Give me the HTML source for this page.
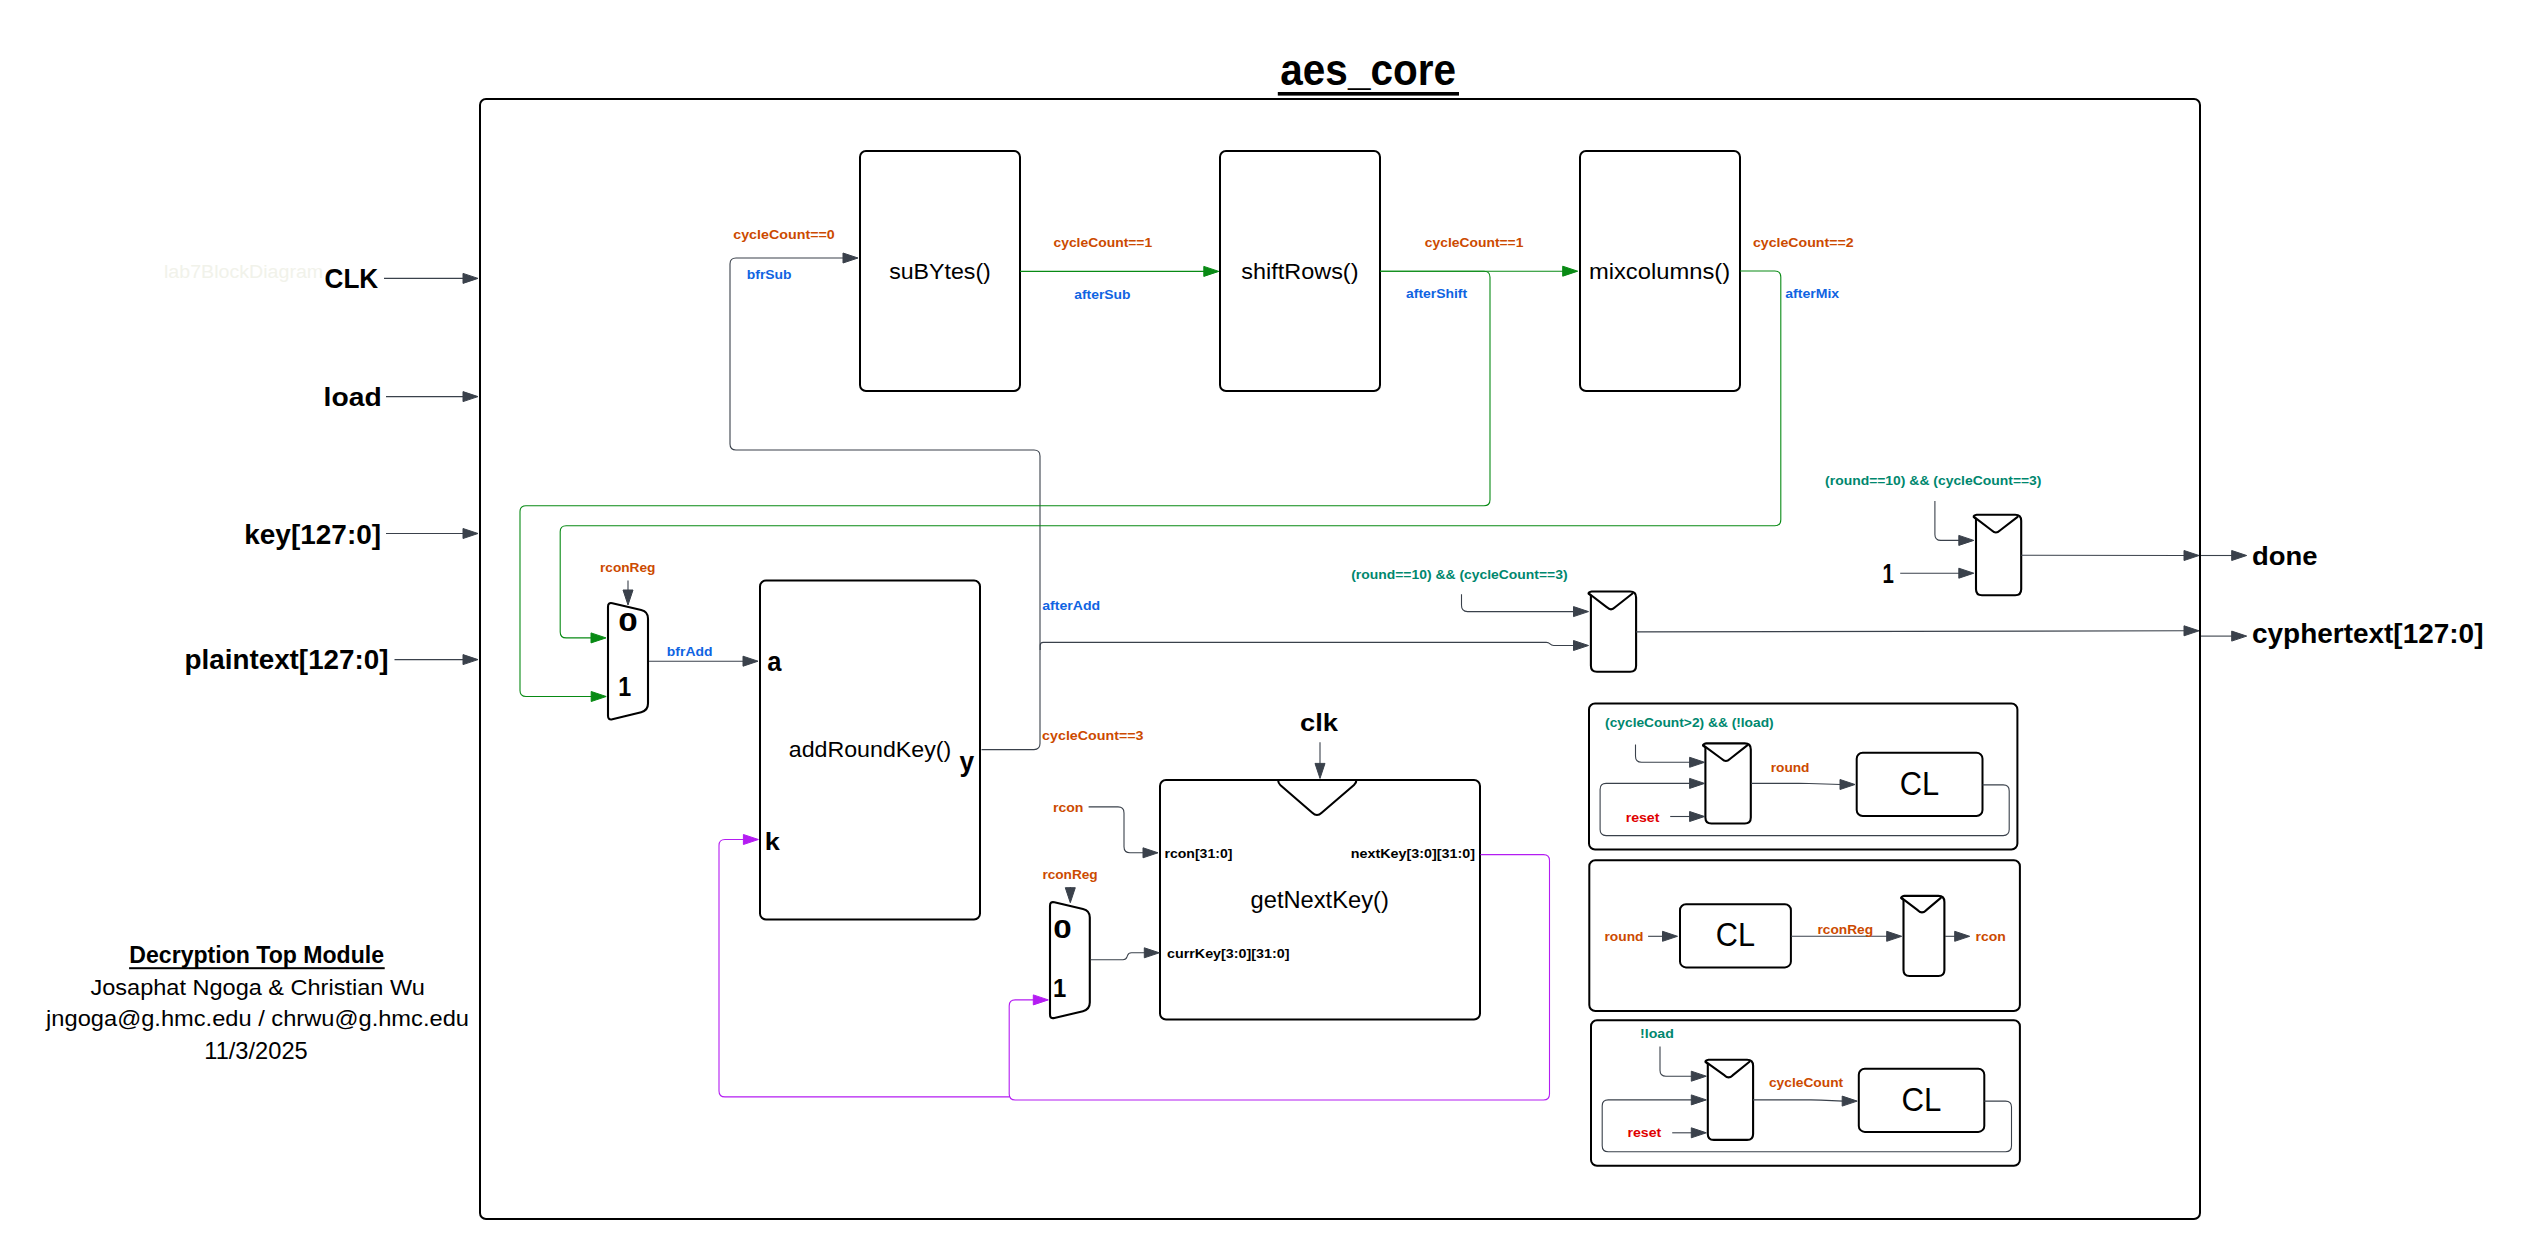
<!DOCTYPE html>
<html><head><meta charset="utf-8"><style>
html,body{margin:0;padding:0;background:#fff;width:2529px;height:1259px;overflow:hidden}
svg{display:block;font-family:"Liberation Sans",sans-serif}
</style></head><body>
<svg width="2529" height="1259" viewBox="0 0 2529 1259">
<rect width="2529" height="1259" fill="#fff"/>
<rect x="480.00" y="99.00" width="1720.00" height="1120.00" rx="6" fill="none" stroke="#000" stroke-width="2"/>
<rect x="860.00" y="151.00" width="160.00" height="240.00" rx="6" fill="none" stroke="#000" stroke-width="2"/>
<rect x="1220.00" y="151.00" width="160.00" height="240.00" rx="6" fill="none" stroke="#000" stroke-width="2"/>
<rect x="1580.00" y="151.00" width="160.00" height="240.00" rx="6" fill="none" stroke="#000" stroke-width="2"/>
<rect x="760.00" y="580.50" width="220.00" height="339.00" rx="6" fill="none" stroke="#000" stroke-width="2"/>
<rect x="1160.00" y="780.00" width="320.00" height="239.50" rx="6" fill="none" stroke="#000" stroke-width="2"/>
<path d="M1278,780 Q1278.3,783.2 1280.5,785.3 L1312.3,812.8 Q1317,817.2 1321.7,812.8 L1354,785 Q1356.4,783 1356.4,780" fill="none" stroke="#000" stroke-width="2.1" stroke-linejoin="round" stroke-linecap="round"/>
<rect x="1589.00" y="703.50" width="428.40" height="146.00" rx="6" fill="none" stroke="#000" stroke-width="2"/>
<rect x="1589.30" y="860.30" width="430.60" height="150.70" rx="6" fill="none" stroke="#000" stroke-width="2"/>
<rect x="1591.00" y="1020.30" width="428.90" height="145.40" rx="6" fill="none" stroke="#000" stroke-width="2"/>
<rect x="1856.70" y="752.80" width="125.80" height="63.20" rx="6" fill="none" stroke="#000" stroke-width="2"/>
<rect x="1680.00" y="904.30" width="110.90" height="63.10" rx="6" fill="none" stroke="#000" stroke-width="2"/>
<rect x="1858.80" y="1068.70" width="125.50" height="63.20" rx="6" fill="none" stroke="#000" stroke-width="2"/>
<path d="M1590.90,595.50 L1588.60,593.70 Q1588.30,592.10 1591.70,591.50 L1630.10,591.50 Q1636.10,591.50 1636.10,597.50 L1636.10,665.80 Q1636.10,671.80 1630.10,671.80 L1596.90,671.80 Q1590.90,671.80 1590.90,665.80 Z" fill="none" stroke="#000" stroke-width="2.1" stroke-linejoin="round"/>
<path d="M1588.90,593.50 L1607.00,607.30 Q1611.00,611.30 1615.00,607.30 L1632.50,593.50" fill="none" stroke="#000" stroke-width="2.1" stroke-linejoin="round" stroke-linecap="round"/>
<path d="M1976.00,518.80 L1973.70,517.00 Q1973.40,515.40 1976.80,514.80 L2015.20,514.80 Q2021.20,514.80 2021.20,520.80 L2021.20,589.20 Q2021.20,595.20 2015.20,595.20 L1982.00,595.20 Q1976.00,595.20 1976.00,589.20 Z" fill="none" stroke="#000" stroke-width="2.1" stroke-linejoin="round"/>
<path d="M1974.00,516.80 L1991.90,530.50 Q1995.90,534.50 1999.90,530.50 L2017.60,516.80" fill="none" stroke="#000" stroke-width="2.1" stroke-linejoin="round" stroke-linecap="round"/>
<path d="M1705.40,747.40 L1703.10,745.60 Q1702.80,744.00 1706.20,743.40 L1744.80,743.40 Q1750.80,743.40 1750.80,749.40 L1750.80,817.50 Q1750.80,823.50 1744.80,823.50 L1711.40,823.50 Q1705.40,823.50 1705.40,817.50 Z" fill="none" stroke="#000" stroke-width="2.1" stroke-linejoin="round"/>
<path d="M1703.40,745.40 L1721.90,759.00 Q1725.90,763.00 1729.90,759.00 L1747.20,745.40" fill="none" stroke="#000" stroke-width="2.1" stroke-linejoin="round" stroke-linecap="round"/>
<path d="M1903.50,899.90 L1901.20,898.10 Q1900.90,896.50 1904.30,895.90 L1938.40,895.90 Q1944.40,895.90 1944.40,901.90 L1944.40,970.00 Q1944.40,976.00 1938.40,976.00 L1909.50,976.00 Q1903.50,976.00 1903.50,970.00 Z" fill="none" stroke="#000" stroke-width="2.1" stroke-linejoin="round"/>
<path d="M1901.50,897.90 L1918.00,910.40 Q1922.00,914.40 1926.00,910.40 L1940.80,897.90" fill="none" stroke="#000" stroke-width="2.1" stroke-linejoin="round" stroke-linecap="round"/>
<path d="M1707.80,1063.80 L1705.50,1062.00 Q1705.20,1060.40 1708.60,1059.80 L1747.10,1059.80 Q1753.10,1059.80 1753.10,1065.80 L1753.10,1133.90 Q1753.10,1139.90 1747.10,1139.90 L1713.80,1139.90 Q1707.80,1139.90 1707.80,1133.90 Z" fill="none" stroke="#000" stroke-width="2.1" stroke-linejoin="round"/>
<path d="M1705.80,1061.80 L1724.60,1075.40 Q1728.60,1079.40 1732.60,1075.40 L1749.50,1061.80" fill="none" stroke="#000" stroke-width="2.1" stroke-linejoin="round" stroke-linecap="round"/>
<path d="M608.00,606.70 Q608.00,602.20 612.38,603.23 L641.19,610.00 Q648.00,611.60 648.00,618.60 L648.00,703.60 Q648.00,710.60 641.20,712.25 L612.37,719.24 Q608.00,720.30 608.00,715.80 Z" fill="none" stroke="#000" stroke-width="2.1"/>
<path d="M1050.00,905.80 Q1050.00,901.30 1054.38,902.31 L1082.98,908.92 Q1089.80,910.50 1089.80,917.50 L1089.80,1002.60 Q1089.80,1009.60 1082.99,1011.21 L1054.38,1017.97 Q1050.00,1019.00 1050.00,1014.50 Z" fill="none" stroke="#000" stroke-width="2.1"/>
<path d="M384.00,278.40 L464.00,278.40" fill="none" stroke="#3a414b" stroke-width="1.1"/>
<polygon points="463.00,273.40 478.00,278.40 463.00,283.40" fill="#3a414b" stroke="#3a414b" stroke-width="1" stroke-linejoin="round"/>
<path d="M386.00,396.60 L464.00,396.60" fill="none" stroke="#3a414b" stroke-width="1.1"/>
<polygon points="463.00,391.60 478.00,396.60 463.00,401.60" fill="#3a414b" stroke="#3a414b" stroke-width="1" stroke-linejoin="round"/>
<path d="M386.00,533.50 L464.00,533.50" fill="none" stroke="#3a414b" stroke-width="1.1"/>
<polygon points="463.00,528.50 478.00,533.50 463.00,538.50" fill="#3a414b" stroke="#3a414b" stroke-width="1" stroke-linejoin="round"/>
<path d="M394.50,659.60 L464.00,659.60" fill="none" stroke="#3a414b" stroke-width="1.1"/>
<polygon points="463.00,654.60 478.00,659.60 463.00,664.60" fill="#3a414b" stroke="#3a414b" stroke-width="1" stroke-linejoin="round"/>
<path d="M981.50,749.60 L1034.00,749.60 Q1040.00,749.60 1040.00,743.60 L1040.00,456.00 Q1040.00,450.00 1034.00,450.00 L736.00,450.00 Q730.00,450.00 730.00,444.00 L730.00,264.00 Q730.00,258.00 736.00,258.00 L844.00,258.00" fill="none" stroke="#3a414b" stroke-width="1.1"/>
<polygon points="843.00,253.00 858.00,258.00 843.00,263.00" fill="#3a414b" stroke="#3a414b" stroke-width="1" stroke-linejoin="round"/>
<path d="M1040.20,650.00 L1040.20,645.40 Q1040.20,642.40 1043.20,642.40 L1546.34,642.40 Q1548.50,642.40 1550.00,643.95 L1550.00,643.95 Q1551.50,645.50 1553.66,645.50 L1574.50,645.50" fill="none" stroke="#3a414b" stroke-width="1.1"/>
<polygon points="1573.50,640.50 1588.50,645.50 1573.50,650.50" fill="#3a414b" stroke="#3a414b" stroke-width="1" stroke-linejoin="round"/>
<path d="M649.00,661.20 L744.00,661.20" fill="none" stroke="#3a414b" stroke-width="1.1"/>
<polygon points="743.00,656.20 758.00,661.20 743.00,666.20" fill="#3a414b" stroke="#3a414b" stroke-width="1" stroke-linejoin="round"/>
<path d="M628.00,580.40 L628.00,591.00" fill="none" stroke="#3a414b" stroke-width="1.1"/>
<polygon points="623.00,590.00 628.00,605.00 633.00,590.00" fill="#3a414b" stroke="#3a414b" stroke-width="1" stroke-linejoin="round"/>
<path d="M1070.30,887.00 L1070.30,888.70" fill="none" stroke="#3a414b" stroke-width="1.1"/>
<polygon points="1065.30,887.70 1070.30,902.70 1075.30,887.70" fill="#3a414b" stroke="#3a414b" stroke-width="1" stroke-linejoin="round"/>
<path d="M1088.60,806.90 L1118.00,806.90 Q1124.00,806.90 1124.00,812.90 L1124.00,846.80 Q1124.00,852.80 1130.00,852.80 L1144.00,852.80" fill="none" stroke="#3a414b" stroke-width="1.1"/>
<polygon points="1143.00,847.80 1158.00,852.80 1143.00,857.80" fill="#3a414b" stroke="#3a414b" stroke-width="1" stroke-linejoin="round"/>
<path d="M1320.00,742.30 L1320.00,764.40" fill="none" stroke="#3a414b" stroke-width="1.1"/>
<polygon points="1315.00,763.40 1320.00,778.40 1325.00,763.40" fill="#3a414b" stroke="#3a414b" stroke-width="1" stroke-linejoin="round"/>
<path d="M1090.60,959.70 L1123.00,959.70 Q1126.00,959.70 1127.02,956.88 L1127.48,955.62 Q1128.50,952.80 1131.50,952.80 L1145.30,952.80" fill="none" stroke="#3a414b" stroke-width="1.1"/>
<polygon points="1144.30,947.80 1159.30,952.80 1144.30,957.80" fill="#3a414b" stroke="#3a414b" stroke-width="1" stroke-linejoin="round"/>
<path d="M1636.00,631.90 L2185.00,630.80" fill="none" stroke="#3a414b" stroke-width="1.1"/>
<polygon points="2184.00,625.80 2199.00,630.80 2184.00,635.80" fill="#3a414b" stroke="#3a414b" stroke-width="1" stroke-linejoin="round"/>
<path d="M1461.50,594.30 L1461.50,605.60 Q1461.50,611.60 1467.50,611.60 L1574.50,611.60" fill="none" stroke="#3a414b" stroke-width="1.1"/>
<polygon points="1573.50,606.60 1588.50,611.60 1573.50,616.60" fill="#3a414b" stroke="#3a414b" stroke-width="1" stroke-linejoin="round"/>
<path d="M2021.00,555.30 L2185.00,555.50" fill="none" stroke="#3a414b" stroke-width="1.1"/>
<polygon points="2184.00,550.50 2199.00,555.50 2184.00,560.50" fill="#3a414b" stroke="#3a414b" stroke-width="1" stroke-linejoin="round"/>
<path d="M1934.90,501.10 L1934.90,534.40 Q1934.90,540.40 1940.90,540.40 L1959.80,540.40" fill="none" stroke="#3a414b" stroke-width="1.1"/>
<polygon points="1958.80,535.40 1973.80,540.40 1958.80,545.40" fill="#3a414b" stroke="#3a414b" stroke-width="1" stroke-linejoin="round"/>
<path d="M1900.20,573.20 L1959.80,573.20" fill="none" stroke="#3a414b" stroke-width="1.1"/>
<polygon points="1958.80,568.20 1973.80,573.20 1958.80,578.20" fill="#3a414b" stroke="#3a414b" stroke-width="1" stroke-linejoin="round"/>
<path d="M2201.00,555.50 L2232.70,555.50" fill="none" stroke="#3a414b" stroke-width="1.1"/>
<polygon points="2231.70,550.50 2246.70,555.50 2231.70,560.50" fill="#3a414b" stroke="#3a414b" stroke-width="1" stroke-linejoin="round"/>
<path d="M2201.00,636.10 L2232.70,636.10" fill="none" stroke="#3a414b" stroke-width="1.1"/>
<polygon points="2231.70,631.10 2246.70,636.10 2231.70,641.10" fill="#3a414b" stroke="#3a414b" stroke-width="1" stroke-linejoin="round"/>
<path d="M1635.50,744.50 L1635.50,756.30 Q1635.50,762.30 1641.50,762.30 L1690.60,762.30" fill="none" stroke="#3a414b" stroke-width="1.1"/>
<polygon points="1689.60,757.30 1704.60,762.30 1689.60,767.30" fill="#3a414b" stroke="#3a414b" stroke-width="1" stroke-linejoin="round"/>
<path d="M1982.50,784.90 L2003.20,784.90 Q2009.20,784.90 2009.20,790.90 L2009.20,829.60 Q2009.20,835.60 2003.20,835.60 L1606.10,835.60 Q1600.10,835.60 1600.10,829.60 L1600.10,789.40 Q1600.10,783.40 1606.10,783.40 L1690.60,783.40" fill="none" stroke="#3a414b" stroke-width="1.1"/>
<polygon points="1689.60,778.40 1704.60,783.40 1689.60,788.40" fill="#3a414b" stroke="#3a414b" stroke-width="1" stroke-linejoin="round"/>
<path d="M1670.20,816.50 L1690.60,816.50" fill="none" stroke="#3a414b" stroke-width="1.1"/>
<polygon points="1689.60,811.50 1704.60,816.50 1689.60,821.50" fill="#3a414b" stroke="#3a414b" stroke-width="1" stroke-linejoin="round"/>
<path d="M1751.00,783.40 L1799.00,783.40 Q1804.00,783.40 1809.00,783.55 L1841.00,784.50" fill="none" stroke="#3a414b" stroke-width="1.1"/>
<polygon points="1840.00,779.50 1855.00,784.50 1840.00,789.50" fill="#3a414b" stroke="#3a414b" stroke-width="1" stroke-linejoin="round"/>
<path d="M1648.10,936.30 L1663.50,936.30" fill="none" stroke="#3a414b" stroke-width="1.1"/>
<polygon points="1662.50,931.30 1677.50,936.30 1662.50,941.30" fill="#3a414b" stroke="#3a414b" stroke-width="1" stroke-linejoin="round"/>
<path d="M1791.00,936.30 L1887.70,936.30" fill="none" stroke="#3a414b" stroke-width="1.1"/>
<polygon points="1886.70,931.30 1901.70,936.30 1886.70,941.30" fill="#3a414b" stroke="#3a414b" stroke-width="1" stroke-linejoin="round"/>
<path d="M1945.00,936.30 L1955.70,936.30" fill="none" stroke="#3a414b" stroke-width="1.1"/>
<polygon points="1954.70,931.30 1969.70,936.30 1954.70,941.30" fill="#3a414b" stroke="#3a414b" stroke-width="1" stroke-linejoin="round"/>
<path d="M1660.00,1046.50 L1660.00,1070.20 Q1660.00,1076.20 1666.00,1076.20 L1692.30,1076.20" fill="none" stroke="#3a414b" stroke-width="1.1"/>
<polygon points="1691.30,1071.20 1706.30,1076.20 1691.30,1081.20" fill="#3a414b" stroke="#3a414b" stroke-width="1" stroke-linejoin="round"/>
<path d="M1984.30,1101.10 L2005.50,1101.10 Q2011.50,1101.10 2011.50,1107.10 L2011.50,1145.80 Q2011.50,1151.80 2005.50,1151.80 L1608.20,1151.80 Q1602.20,1151.80 1602.20,1145.80 L1602.20,1105.90 Q1602.20,1099.90 1608.20,1099.90 L1692.30,1099.90" fill="none" stroke="#3a414b" stroke-width="1.1"/>
<polygon points="1691.30,1094.90 1706.30,1099.90 1691.30,1104.90" fill="#3a414b" stroke="#3a414b" stroke-width="1" stroke-linejoin="round"/>
<path d="M1672.20,1132.80 L1692.30,1132.80" fill="none" stroke="#3a414b" stroke-width="1.1"/>
<polygon points="1691.30,1127.80 1706.30,1132.80 1691.30,1137.80" fill="#3a414b" stroke="#3a414b" stroke-width="1" stroke-linejoin="round"/>
<path d="M1753.00,1099.90 L1810.80,1099.90 Q1815.80,1099.90 1820.80,1100.12 L1843.20,1101.10" fill="none" stroke="#3a414b" stroke-width="1.1"/>
<polygon points="1842.20,1096.10 1857.20,1101.10 1842.20,1106.10" fill="#3a414b" stroke="#3a414b" stroke-width="1" stroke-linejoin="round"/>
<path d="M1020.00,271.40 L1204.80,271.40" fill="none" stroke="#088a14" stroke-width="1.1"/>
<polygon points="1203.80,266.40 1218.80,271.40 1203.80,276.40" fill="#088a14" stroke="#088a14" stroke-width="1" stroke-linejoin="round"/>
<path d="M1380.00,271.20 L1563.70,271.20" fill="none" stroke="#088a14" stroke-width="1.1"/>
<polygon points="1562.70,266.20 1577.70,271.20 1562.70,276.20" fill="#088a14" stroke="#088a14" stroke-width="1" stroke-linejoin="round"/>
<path d="M1380.00,271.20 L1484.00,271.20 Q1490.00,271.20 1490.00,277.20 L1490.00,499.70 Q1490.00,505.70 1484.00,505.70 L526.00,505.70 Q520.00,505.70 520.00,511.70 L520.00,690.50 Q520.00,696.50 526.00,696.50 L592.20,696.50" fill="none" stroke="#088a14" stroke-width="1.1"/>
<polygon points="591.20,691.50 606.20,696.50 591.20,701.50" fill="#088a14" stroke="#088a14" stroke-width="1" stroke-linejoin="round"/>
<path d="M1740.00,271.00 L1774.80,271.00 Q1780.80,271.00 1780.80,277.00 L1780.80,519.70 Q1780.80,525.70 1774.80,525.70 L566.20,525.70 Q560.20,525.70 560.20,531.70 L560.20,631.90 Q560.20,637.90 566.20,637.90 L592.00,637.90" fill="none" stroke="#088a14" stroke-width="1.1"/>
<polygon points="591.00,632.90 606.00,637.90 591.00,642.90" fill="#088a14" stroke="#088a14" stroke-width="1" stroke-linejoin="round"/>
<path d="M1480.50,854.60 L1543.50,854.60 Q1549.50,854.60 1549.50,860.60 L1549.50,1094.00 Q1549.50,1100.00 1543.50,1100.00 L1015.20,1100.00 Q1009.20,1100.00 1009.20,1094.00 L1009.20,1005.90 Q1009.20,999.90 1015.20,999.90 L1034.30,999.90" fill="none" stroke="#b41cf2" stroke-width="1.1"/>
<polygon points="1033.30,994.90 1048.30,999.90 1033.30,1004.90" fill="#b41cf2" stroke="#b41cf2" stroke-width="1" stroke-linejoin="round"/>
<path d="M1009.20,1096.90 L725.00,1096.90 Q719.00,1096.90 719.00,1090.90 L719.00,845.50 Q719.00,839.50 725.00,839.50 L744.40,839.50" fill="none" stroke="#b41cf2" stroke-width="1.1"/>
<polygon points="743.40,834.50 758.40,839.50 743.40,844.50" fill="#b41cf2" stroke="#b41cf2" stroke-width="1" stroke-linejoin="round"/>
<text x="1280.31" y="84.60" font-size="43.56" font-weight="bold" fill="#000" textLength="175.67" lengthAdjust="spacingAndGlyphs">aes_core</text>
<rect x="1277.8" y="92" width="181.2" height="3.6" fill="#000"/>
<text x="163.98" y="278.10" font-size="18.63" font-weight="normal" fill="#f1f2ea" textLength="159.22" lengthAdjust="spacingAndGlyphs">lab7BlockDiagram</text>
<text x="324.53" y="288.20" font-size="27.91" font-weight="bold" fill="#000" textLength="53.71" lengthAdjust="spacingAndGlyphs">CLK</text>
<text x="323.63" y="406.00" font-size="25.12" font-weight="bold" fill="#000" textLength="58.03" lengthAdjust="spacingAndGlyphs">load</text>
<text x="244.25" y="544.10" font-size="27.46" font-weight="bold" fill="#000" textLength="136.82" lengthAdjust="spacingAndGlyphs">key[127:0]</text>
<text x="184.47" y="669.40" font-size="27.60" font-weight="bold" fill="#000" textLength="204.10" lengthAdjust="spacingAndGlyphs">plaintext[127:0]</text>
<text x="2251.97" y="565.00" font-size="25.95" font-weight="bold" fill="#000" textLength="65.56" lengthAdjust="spacingAndGlyphs">done</text>
<text x="2252.01" y="642.90" font-size="27.33" font-weight="bold" fill="#000" textLength="231.46" lengthAdjust="spacingAndGlyphs">cyphertext[127:0]</text>
<text x="889.16" y="278.80" font-size="22.82" font-weight="normal" fill="#000" textLength="101.68" lengthAdjust="spacingAndGlyphs">suBYtes()</text>
<text x="1241.35" y="278.80" font-size="22.82" font-weight="normal" fill="#000" textLength="117.10" lengthAdjust="spacingAndGlyphs">shiftRows()</text>
<text x="1588.92" y="278.80" font-size="22.82" font-weight="normal" fill="#000" textLength="141.25" lengthAdjust="spacingAndGlyphs">mixcolumns()</text>
<text x="733.24" y="238.50" font-size="13.40" font-weight="bold" fill="#cc4a00" textLength="101.54" lengthAdjust="spacingAndGlyphs">cycleCount==0</text>
<text x="1053.46" y="247.40" font-size="13.40" font-weight="bold" fill="#cc4a00" textLength="98.73" lengthAdjust="spacingAndGlyphs">cycleCount==1</text>
<text x="1424.86" y="247.40" font-size="13.40" font-weight="bold" fill="#cc4a00" textLength="98.53" lengthAdjust="spacingAndGlyphs">cycleCount==1</text>
<text x="1752.95" y="247.20" font-size="13.40" font-weight="bold" fill="#cc4a00" textLength="100.62" lengthAdjust="spacingAndGlyphs">cycleCount==2</text>
<text x="1042.14" y="739.60" font-size="13.40" font-weight="bold" fill="#cc4a00" textLength="101.37" lengthAdjust="spacingAndGlyphs">cycleCount==3</text>
<text x="600.00" y="571.80" font-size="13.40" font-weight="bold" fill="#cc4a00" textLength="55.41" lengthAdjust="spacingAndGlyphs">rconReg</text>
<text x="1042.40" y="878.50" font-size="13.40" font-weight="bold" fill="#cc4a00" textLength="55.31" lengthAdjust="spacingAndGlyphs">rconReg</text>
<text x="1052.97" y="812.00" font-size="13.40" font-weight="bold" fill="#cc4a00" textLength="30.50" lengthAdjust="spacingAndGlyphs">rcon</text>
<text x="1770.70" y="771.50" font-size="13.40" font-weight="bold" fill="#cc4a00" textLength="38.81" lengthAdjust="spacingAndGlyphs">round</text>
<text x="1604.49" y="940.70" font-size="13.40" font-weight="bold" fill="#cc4a00" textLength="39.02" lengthAdjust="spacingAndGlyphs">round</text>
<text x="1817.50" y="933.60" font-size="13.40" font-weight="bold" fill="#cc4a00" textLength="55.62" lengthAdjust="spacingAndGlyphs">rconReg</text>
<text x="1975.48" y="940.90" font-size="13.40" font-weight="bold" fill="#cc4a00" textLength="30.29" lengthAdjust="spacingAndGlyphs">rcon</text>
<text x="1768.96" y="1087.40" font-size="13.40" font-weight="bold" fill="#cc4a00" textLength="74.21" lengthAdjust="spacingAndGlyphs">cycleCount</text>
<text x="746.78" y="278.50" font-size="13.40" font-weight="bold" fill="#1064e2" textLength="44.79" lengthAdjust="spacingAndGlyphs">bfrSub</text>
<text x="1074.29" y="298.50" font-size="13.40" font-weight="bold" fill="#1064e2" textLength="56.28" lengthAdjust="spacingAndGlyphs">afterSub</text>
<text x="1405.99" y="297.70" font-size="13.40" font-weight="bold" fill="#1064e2" textLength="61.18" lengthAdjust="spacingAndGlyphs">afterShift</text>
<text x="1785.19" y="297.60" font-size="13.40" font-weight="bold" fill="#1064e2" textLength="54.02" lengthAdjust="spacingAndGlyphs">afterMix</text>
<text x="666.88" y="656.40" font-size="13.40" font-weight="bold" fill="#1064e2" textLength="45.53" lengthAdjust="spacingAndGlyphs">bfrAdd</text>
<text x="1042.29" y="609.80" font-size="13.40" font-weight="bold" fill="#1064e2" textLength="57.84" lengthAdjust="spacingAndGlyphs">afterAdd</text>
<text x="1351.21" y="579.00" font-size="13.40" font-weight="bold" fill="#00876e" textLength="216.39" lengthAdjust="spacingAndGlyphs">(round==10) &amp;&amp; (cycleCount==3)</text>
<text x="1825.11" y="485.00" font-size="13.40" font-weight="bold" fill="#00876e" textLength="216.39" lengthAdjust="spacingAndGlyphs">(round==10) &amp;&amp; (cycleCount==3)</text>
<text x="1605.11" y="726.70" font-size="13.40" font-weight="bold" fill="#00876e" textLength="168.57" lengthAdjust="spacingAndGlyphs">(cycleCount&gt;2) &amp;&amp; (!load)</text>
<text x="1640.07" y="1038.10" font-size="13.40" font-weight="bold" fill="#00876e" textLength="33.76" lengthAdjust="spacingAndGlyphs">!load</text>
<text x="1625.67" y="821.70" font-size="13.40" font-weight="bold" fill="#e00000" textLength="33.70" lengthAdjust="spacingAndGlyphs">reset</text>
<text x="1627.47" y="1137.20" font-size="13.40" font-weight="bold" fill="#e00000" textLength="33.70" lengthAdjust="spacingAndGlyphs">reset</text>
<text x="1164.47" y="858.20" font-size="13.40" font-weight="bold" fill="#000" textLength="67.91" lengthAdjust="spacingAndGlyphs">rcon[31:0]</text>
<text x="1350.76" y="858.20" font-size="13.40" font-weight="bold" fill="#000" textLength="124.15" lengthAdjust="spacingAndGlyphs">nextKey[3:0][31:0]</text>
<text x="1167.04" y="958.40" font-size="13.40" font-weight="bold" fill="#000" textLength="122.36" lengthAdjust="spacingAndGlyphs">currKey[3:0][31:0]</text>
<text x="618.31" y="631.00" font-size="25.58" font-weight="bold" fill="#000" textLength="19.53" lengthAdjust="spacingAndGlyphs">0</text>
<text x="618.24" y="695.50" font-size="27.33" font-weight="bold" fill="#000" textLength="12.91" lengthAdjust="spacingAndGlyphs">1</text>
<text x="1053.19" y="938.00" font-size="25.58" font-weight="bold" fill="#000" textLength="18.48" lengthAdjust="spacingAndGlyphs">0</text>
<text x="1053.00" y="996.70" font-size="26.60" font-weight="bold" fill="#000" textLength="13.27" lengthAdjust="spacingAndGlyphs">1</text>
<text x="1882.61" y="583.30" font-size="27.62" font-weight="bold" fill="#000" textLength="11.35" lengthAdjust="spacingAndGlyphs">1</text>
<text x="767.25" y="671.10" font-size="27.08" font-weight="bold" fill="#000" textLength="14.19" lengthAdjust="spacingAndGlyphs">a</text>
<text x="764.71" y="850.40" font-size="23.74" font-weight="bold" fill="#000" textLength="15.06" lengthAdjust="spacingAndGlyphs">k</text>
<text x="959.49" y="770.80" font-size="26.89" font-weight="bold" fill="#000" textLength="14.65" lengthAdjust="spacingAndGlyphs">y</text>
<text x="788.81" y="756.60" font-size="22.97" font-weight="normal" fill="#000" textLength="162.42" lengthAdjust="spacingAndGlyphs">addRoundKey()</text>
<text x="1299.93" y="731.20" font-size="23.05" font-weight="bold" fill="#000" textLength="38.04" lengthAdjust="spacingAndGlyphs">clk</text>
<text x="1250.61" y="908.30" font-size="23.11" font-weight="normal" fill="#000" textLength="138.16" lengthAdjust="spacingAndGlyphs">getNextKey()</text>
<text x="1899.64" y="795.00" font-size="32.85" font-weight="normal" fill="#000" textLength="39.39" lengthAdjust="spacingAndGlyphs">CL</text>
<text x="1715.84" y="946.10" font-size="32.41" font-weight="normal" fill="#000" textLength="39.17" lengthAdjust="spacingAndGlyphs">CL</text>
<text x="1901.41" y="1111.00" font-size="32.56" font-weight="normal" fill="#000" textLength="39.92" lengthAdjust="spacingAndGlyphs">CL</text>
<text x="129.37" y="962.70" font-size="23.26" font-weight="bold" fill="#000" textLength="254.62" lengthAdjust="spacingAndGlyphs">Decryption Top Module</text>
<rect x="129.1" y="967.2" width="255.6" height="2" fill="#000"/>
<text x="90.53" y="994.60" font-size="21.95" font-weight="normal" fill="#000" textLength="334.23" lengthAdjust="spacingAndGlyphs">Josaphat Ngoga &amp; Christian Wu</text>
<text x="46.08" y="1026.40" font-size="21.95" font-weight="normal" fill="#000" textLength="422.89" lengthAdjust="spacingAndGlyphs">jngoga@g.hmc.edu / chrwu@g.hmc.edu</text>
<text x="204.23" y="1059.10" font-size="23.69" font-weight="normal" fill="#000" textLength="103.55" lengthAdjust="spacingAndGlyphs">11/3/2025</text>
</svg>
</body></html>
